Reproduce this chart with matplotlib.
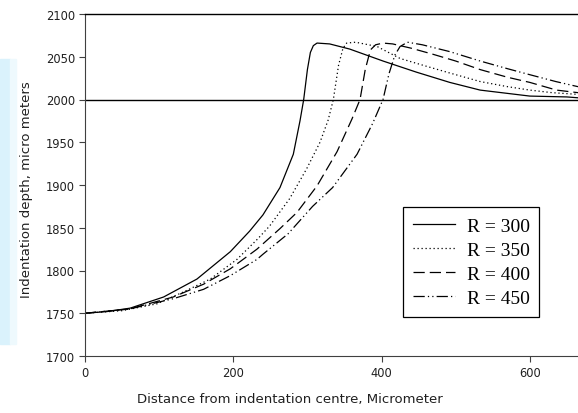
import matplotlib
matplotlib.use("Agg")
import matplotlib.pyplot as plt
from matplotlib.patches import Rectangle

plt.rcParams['font.family'] = ['DejaVu Sans']

# distance from indentation centre (micrometer) and indentation depth (micro meters)
x_r300 = [0, 30, 61, 106, 151, 196, 222, 240, 263, 281, 290, 295, 300, 304, 308, 313,
          330, 357, 402, 447, 492, 533, 600, 650, 665]
y_r300 = [1750, 1752, 1756, 1769, 1790, 1822, 1846, 1865, 1897, 1936, 1975, 2000, 2035,
          2055, 2063, 2066, 2065, 2059, 2045, 2032, 2020, 2011, 2004, 2003, 2002]

x_r350 = [0, 50, 97, 133, 169, 205, 233, 249, 276, 299, 317, 328, 335, 342, 348, 353,
          365, 394, 425, 460, 492, 533, 570, 600, 630, 665]
y_r350 = [1750, 1753, 1761, 1775, 1790, 1813, 1837, 1852, 1884, 1919, 1950, 1976, 2000,
          2040, 2060, 2066, 2067, 2062, 2048, 2039, 2031, 2021, 2015, 2011, 2008, 2006]

x_r400 = [0, 60, 119, 160, 196, 218, 232, 263, 286, 313, 340, 360, 371, 378, 385, 392,
          402, 415, 440, 469, 500, 533, 570, 600, 636, 665]
y_r400 = [1750, 1755, 1769, 1784, 1802, 1816, 1825, 1849, 1868, 1899, 1939, 1977, 2000,
          2035, 2058, 2064, 2066, 2065, 2060, 2053, 2045, 2035, 2026, 2020, 2011, 2008]

x_r450 = [0, 60, 119, 160, 196, 232, 240, 274, 307, 334, 367, 388, 402, 410, 418, 425,
          435, 455, 492, 533, 570, 600, 635, 665]
y_r450 = [1750, 1755, 1767, 1778, 1794, 1813, 1819, 1843, 1875, 1897, 1936, 1972, 2000,
          2030, 2052, 2062, 2067, 2064, 2056, 2045, 2036, 2029, 2021, 2015]

labels = ["R = 300", "R = 350", "R = 400", "R = 450"]
x_ticks = [0, 200, 400, 600]
y_ticks = [1700, 1750, 1800, 1850, 1900, 1950, 2000, 2050, 2100]
surface_level = 2000

fig = plt.figure(figsize=(5.78, 4.14), dpi=100)

# light blue strip on the left edge of the original scan
fig.patches.append(Rectangle((0, 1 - 345 / 414), 10 / 578, 285 / 414,
                             transform=fig.transFigure, color="#daf2fc", zorder=0))
fig.patches.append(Rectangle((10 / 578, 1 - 345 / 414), 6 / 578, 285 / 414,
                             transform=fig.transFigure, color="#eef9fd", zorder=0))

ax = fig.add_axes([85 / 578, 1 - 357 / 414, 1 - 85 / 578, 342 / 414])
ax.patch.set_alpha(0)

lw = 0.9
ax.plot(x_r300, y_r300, color="black", lw=lw, linestyle="-", label=labels[0])
ax.plot(x_r350, y_r350, color="black", lw=lw, linestyle=(0, (1, 2.2)), label=labels[1])
ax.plot(x_r400, y_r400, color="black", lw=lw, linestyle=(0, (9, 4)), label=labels[2])
ax.plot(x_r450, y_r450, color="black", lw=lw, linestyle=(0, (9, 2.5, 1, 2.5, 1, 2.5)),
        label=labels[3])
ax.axhline(surface_level, color="black", lw=1.0)

ax.set_xlim(0, 665)
ax.set_ylim(1700, 2100)
ax.set_xticks(x_ticks)
ax.set_yticks(y_ticks)
ax.tick_params(direction="out", length=4, width=0.8, color="#404040",
               labelsize=8.3, labelcolor="#202020")
ax.tick_params(axis="x", pad=3)
ax.tick_params(axis="y", pad=3)

ax.spines["right"].set_visible(False)
ax.spines["top"].set_color("black")
ax.spines["top"].set_linewidth(1.0)
ax.spines["left"].set_color("#404040")
ax.spines["bottom"].set_color("#404040")
ax.spines["left"].set_linewidth(0.8)
ax.spines["bottom"].set_linewidth(0.8)

ax.set_xlabel("Distance from indentation centre, Micrometer", fontsize=9.5, color="#202020")
ax.set_ylabel("Indentation depth, micro meters", fontsize=9.5, color="#202020")
ax.xaxis.set_label_coords(0.416, -0.105)
ax.yaxis.set_label_coords(-0.106, 0.49)

leg = ax.legend(loc="lower left", bbox_to_anchor=(0.645, 0.114), borderaxespad=0,
                prop={"family": "Liberation Serif", "size": 14},
                handlelength=2.2, handletextpad=0.57, labelspacing=0.34,
                borderpad=0.5, fancybox=False, framealpha=1)
leg.get_frame().set_edgecolor("black")
leg.get_frame().set_linewidth(0.9)

fig.savefig("out.png", dpi=100)
